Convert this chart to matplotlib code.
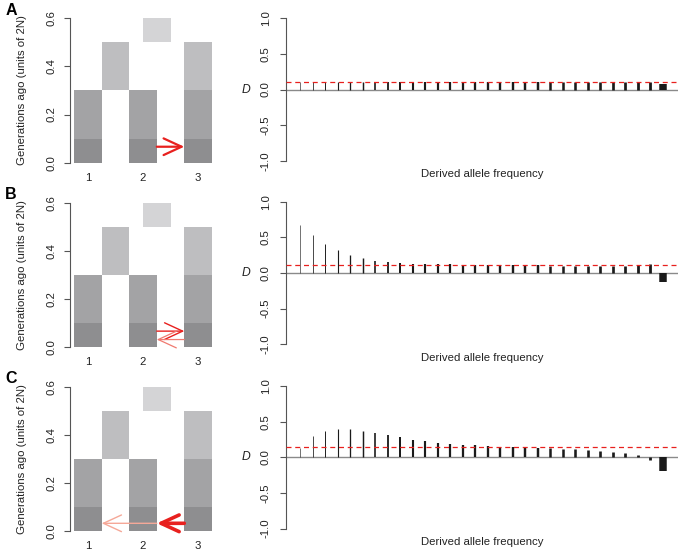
import numpy as np
import matplotlib
matplotlib.use("Agg")
import matplotlib.pyplot as plt

plt.rcParams['font.family'] = ['Liberation Sans', 'DejaVu Sans']

# ---- data ----
pop_labels = ['1', '2', '3']
t_gene_flow = 0.1      # end of recent period (dark band)
t_split_12 = 0.3       # split of pops 1 and 2
t_split_123 = 0.5      # split of (1,2) and 3
t_root = 0.6

daf = np.arange(1, 31)

D_A = [0.10] * 29 + [0.08]
D_B = [0.67, 0.526, 0.41, 0.321, 0.251, 0.205, 0.172, 0.154, 0.144, 0.13,
       0.126, 0.122, 0.12, 0.118, 0.115, 0.113, 0.112, 0.11, 0.108, 0.105,
       0.102, 0.102, 0.099, 0.098, 0.096, 0.093, 0.095, 0.107, 0.13, -0.121]
D_C = [0.135, 0.298, 0.372, 0.40, 0.396, 0.372, 0.344, 0.312, 0.279, 0.247,
       0.223, 0.205, 0.191, 0.177, 0.168, 0.158, 0.149, 0.144, 0.14, 0.135,
       0.126, 0.121, 0.112, 0.102, 0.093, 0.079, 0.06, 0.028, -0.042, -0.196]
D_genome = [0.107, 0.116, 0.15]

# gene flow events per panel: (from_pop, to_pop, time, style, starts_at_far_edge)
flows_A = [(2, 3, 0.066, 'strong', False)]
flows_B = [(2, 3, 0.066, 'medium', False), (3, 2, 0.031, 'weak', False)]
flows_C = [(3, 2, 0.032, 'heavy', False), (2, 1, 0.032, 'faint', True)]

# ---- styles ----
c_dark = '#8e8e90'
c_mid = '#a3a3a5'
c_light = '#bebec0'
c_root = '#d4d4d6'
arrow_styles = {
    'strong': dict(color='#e8201e', lw=1.6),
    'medium': dict(color='#e8201e', lw=1.0),
    'weak': dict(color='#f07a70', lw=0.9),
    'heavy': dict(color='#e8201e', lw=2.6),
    'faint': dict(color='#f5a898', lw=1.0),
}
bar_px = np.concatenate([np.linspace(0.6, 2.0, 9), np.linspace(2.1, 2.8, 20), [7.5]])
fs = 8.2

W, H = 680, 551
fig = plt.figure(figsize=(W / 100, H / 100), dpi=100)


def rect(left, top, w, h):
    return [left / W, 1 - (top + h) / H, w / W, h / H]


tops_left = [18.3, 202.7, 386.7]
tops_right = [18.3, 201.7, 386.0]
letters = ['A', 'B', 'C']
all_D = [D_A, D_B, D_C]
all_flows = [flows_A, flows_B, flows_C]
axis_col = '#555555'
text_col = '#222222'

for k in range(3):
    # ---------- population tree ----------
    ax = fig.add_axes(rect(70, tops_left[k], 144, 144.3))
    half = 0.25
    anc12 = 1.5
    root_x = (anc12 + 3) / 2
    for p in [1, 2, 3]:
        ax.bar(p, t_gene_flow, width=2 * half, bottom=0, color=c_dark, edgecolor='none')
        ax.bar(p, t_split_12 - t_gene_flow, width=2 * half, bottom=t_gene_flow,
               color=c_mid, edgecolor='none')
    ax.bar(anc12, t_split_123 - t_split_12, width=2 * half, bottom=t_split_12,
           color=c_light, edgecolor='none')
    ax.bar(3, t_split_123 - t_split_12, width=2 * half, bottom=t_split_12,
           color=c_light, edgecolor='none')
    ax.bar(root_x, t_root - t_split_123, width=2 * half, bottom=t_split_123,
           color=c_root, edgecolor='none')

    for src, dst, t, st, far in all_flows[k]:
        sgn = 1 if dst > src else -1
        x0 = src - sgn * half if far else src + sgn * half
        x1 = dst - sgn * half
        s = arrow_styles[st]
        ax.annotate('', xy=(x1, t), xytext=(x0, t),
                    arrowprops=dict(arrowstyle='->,head_length=1.3,head_width=0.6',
                                    color=s['color'], lw=s['lw'],
                                    shrinkA=0, shrinkB=0))

    ax.set_xlim(0.673, 3.29)
    ax.set_ylim(0, 0.6)
    ax.set_xticks([1, 2, 3])
    ax.set_xticklabels(pop_labels, fontsize=fs)
    ax.set_yticks([0, 0.2, 0.4, 0.6])
    ax.set_yticklabels(['0.0', '0.2', '0.4', '0.6'], fontsize=fs)
    ax.tick_params(axis='x', length=0, pad=7.5, colors=text_col)
    ax.tick_params(axis='y', length=4.5, width=0.8, color=axis_col, pad=5.5,
                   labelcolor=text_col, labelrotation=90)
    for lab in ax.get_yticklabels():
        lab.set_va('center')
    for sp in ['top', 'right', 'bottom']:
        ax.spines[sp].set_visible(False)
    ax.spines['left'].set_color(axis_col)
    ax.spines['left'].set_linewidth(0.8)
    fig.text(22 / W, 1 - (tops_left[k] + 72) / H, 'Generations ago (units of 2N)',
             fontsize=fs, rotation=90, ha='center', va='center', color=text_col)
    fig.text(11 / W, 1 - (tops_left[k] - 8) / H, letters[k], fontsize=11.5,
             fontweight='bold', ha='center', va='center')

    # ---------- D by derived allele frequency ----------
    ax2 = fig.add_axes(rect(286, tops_right[k], 392, 142.5))
    ax2.set_xlim(-0.12, 31.24)
    ax2.set_ylim(-1, 1)
    ax2.axhline(0, color='#8a8a8a', lw=1.0, zorder=1)
    ax2.vlines(daf, 0, all_D[k], lw=bar_px * 0.72, color='#1a1a1a',
               capstyle='butt', zorder=2)
    ax2.axhline(D_genome[k], color='#e8201e', lw=0.9, ls=(0, (4, 3)), zorder=3)
    ax2.set_xticks([])
    ax2.set_yticks([-1, -0.5, 0, 0.5, 1])
    ax2.set_yticklabels(['-1.0', '-0.5', '0.0', '0.5', '1.0'], fontsize=fs)
    ax2.tick_params(axis='y', length=4.5, width=0.8, color=axis_col, pad=6.5,
                    labelcolor=text_col, labelrotation=90)
    for lab in ax2.get_yticklabels():
        lab.set_va('center')
    for sp in ['top', 'right', 'bottom']:
        ax2.spines[sp].set_visible(False)
    ax2.spines['left'].set_color(axis_col)
    ax2.spines['left'].set_linewidth(0.8)
    ax2.set_xlabel('Derived allele frequency', fontsize=fs, labelpad=6, color=text_col)
    ax2.yaxis.set_label_coords(-0.102, 0.5)
    ax2.set_ylabel('D', fontsize=fs + 0.5, style='italic', rotation=0, va='center',
                   ha='center', color=text_col)

fig.savefig('out.png', dpi=100, facecolor='white')
